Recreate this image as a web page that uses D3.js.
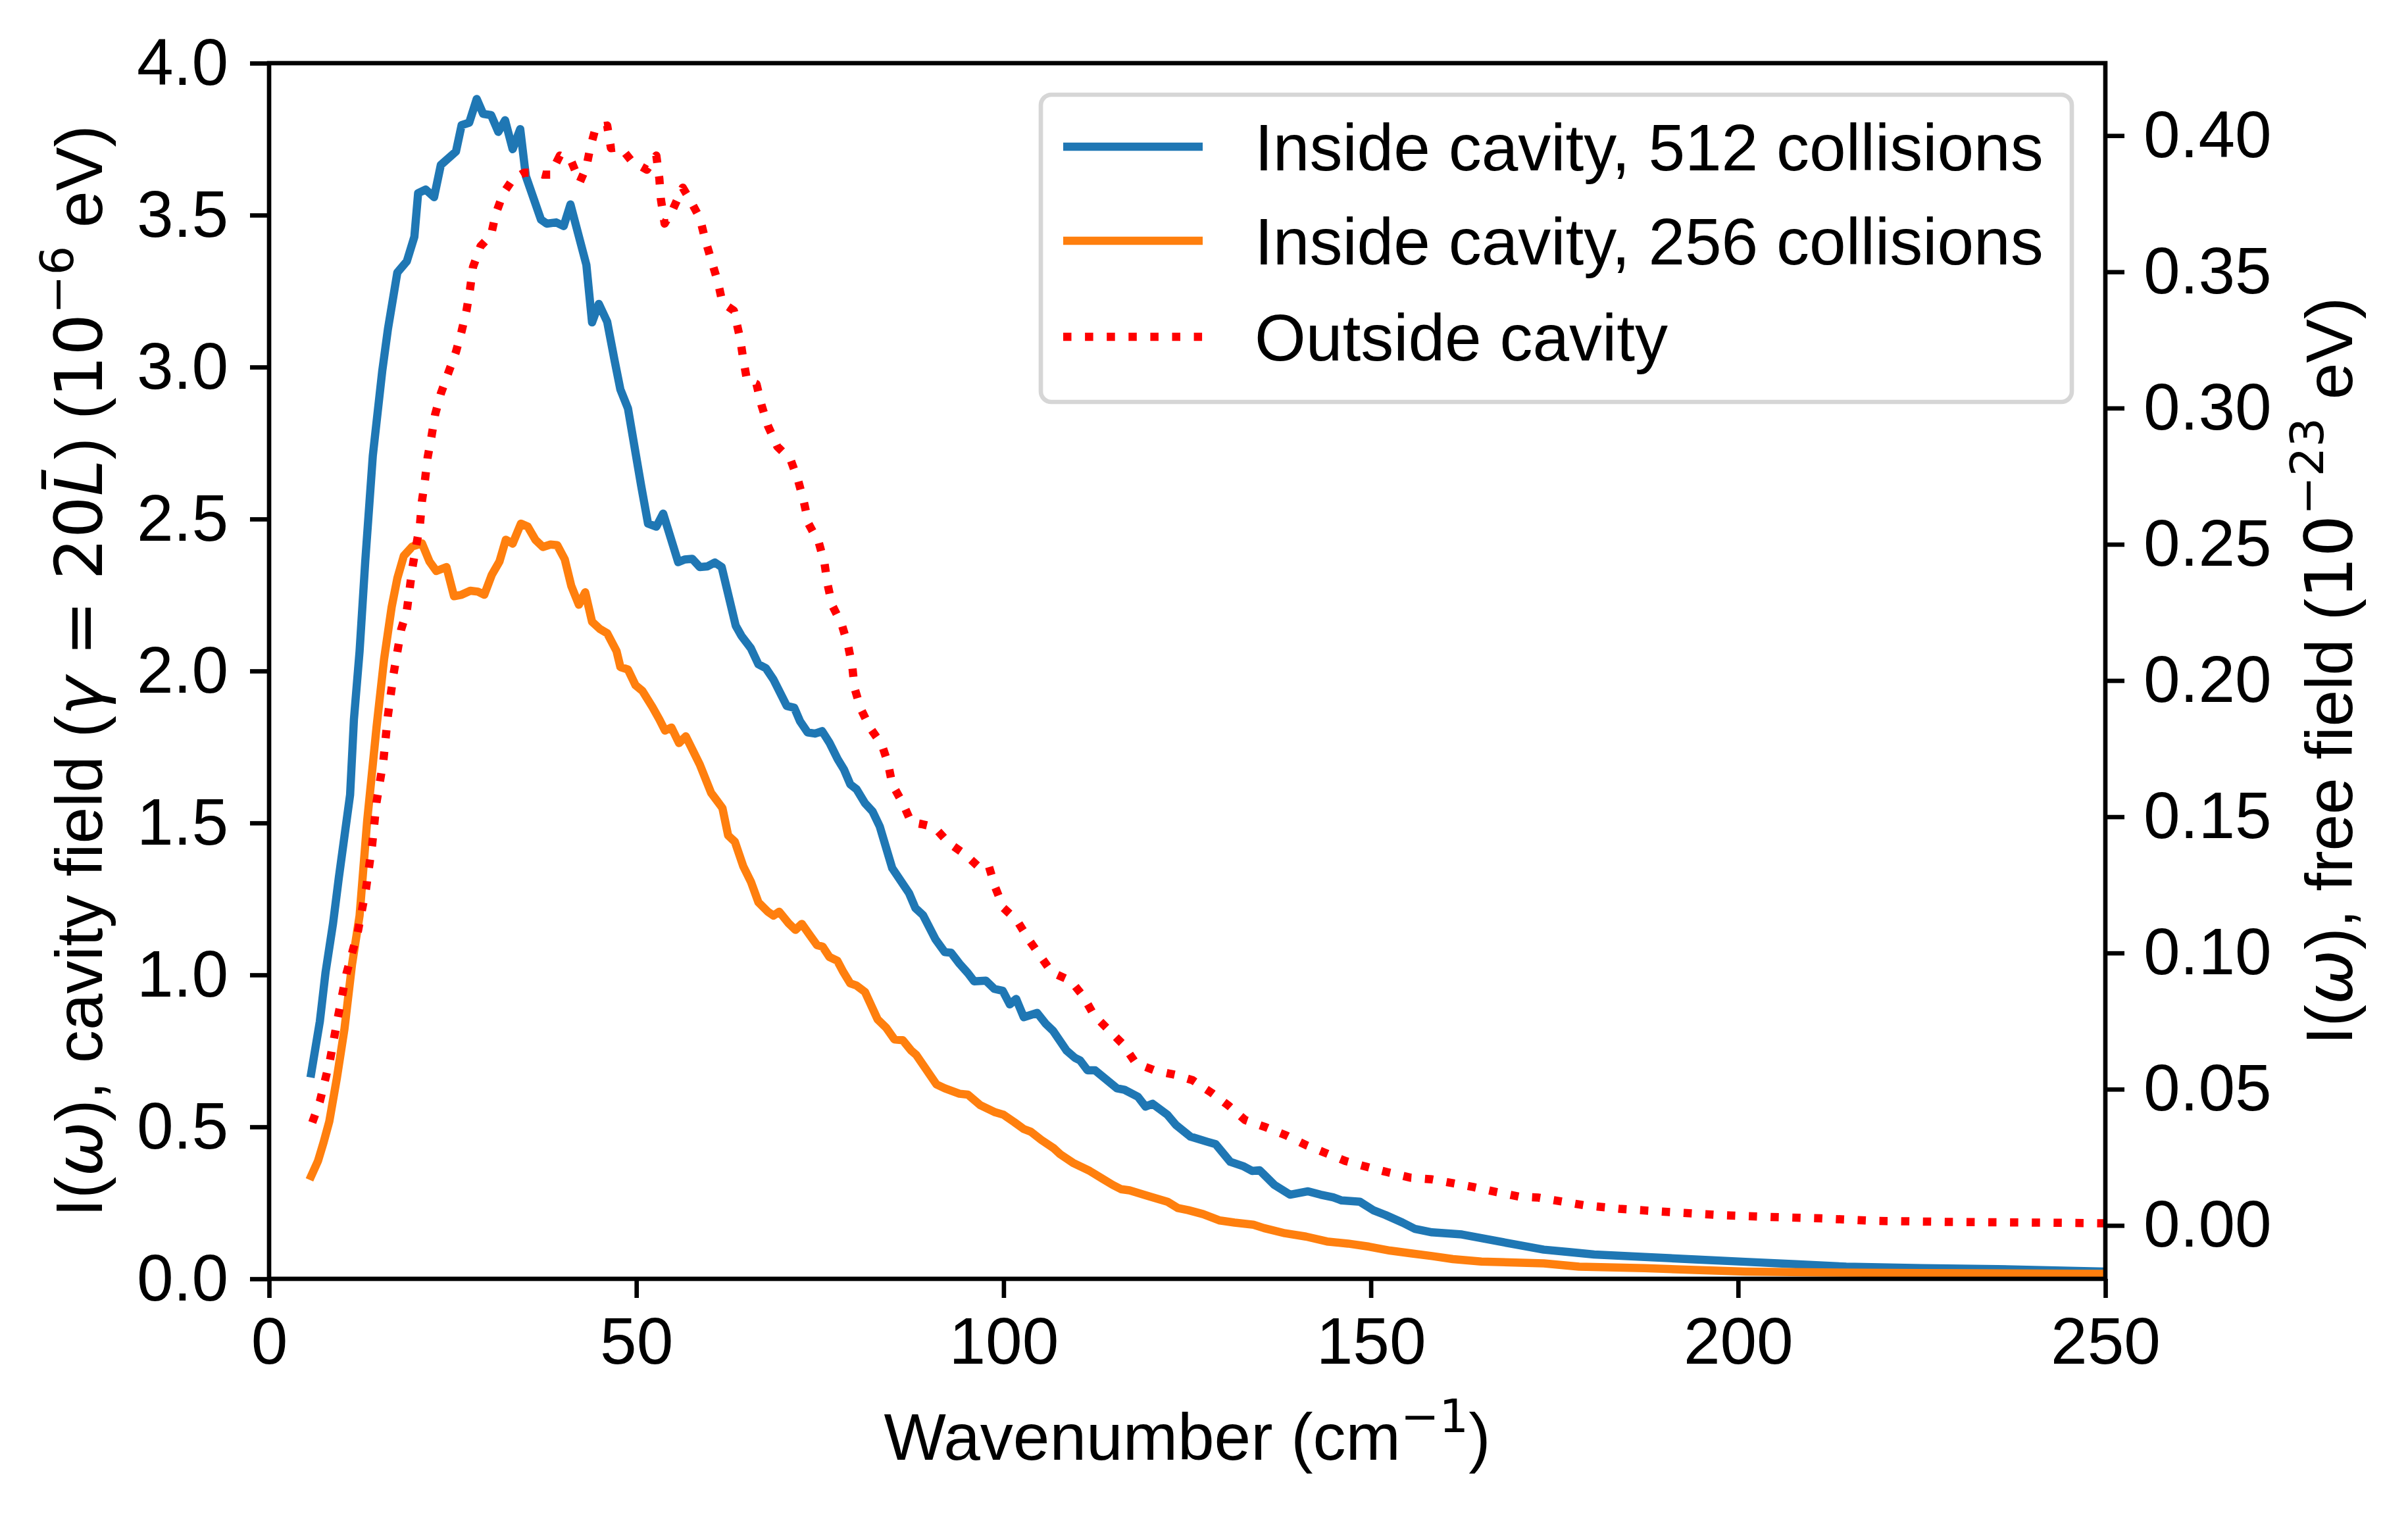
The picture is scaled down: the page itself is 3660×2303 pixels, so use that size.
<!DOCTYPE html>
<html>
<head>
<meta charset="utf-8">
<script src="https://cdn.jsdelivr.net/npm/d3@7"></script>
<style>
  html, body { margin: 0; padding: 0; background: #fff; }
  svg { display: block; }
</style>
</head>
<body>
<div id="chart"></div>
<script>
const width = 3660;
const height = 2303;

// wavenumber / intensity
const blueX = [5.73, 6.91, 7.69, 8.71, 9.49, 10.26, 11.03, 11.55, 12.32, 13.09, 14.12, 15.41, 16.18, 17.46, 18.75, 19.78, 20.29, 21.32, 22.46, 23.38, 25.44, 26.21, 27.24, 28.27, 29.15, 30.23, 31.21, 32.13, 33.16, 34.19, 34.96, 37.02, 37.79, 39.08, 40.11, 41.03, 43.2, 43.97, 44.89, 46.03, 47.06, 47.83, 48.86, 50.66, 51.59, 52.72, 53.65, 55.7, 56.58, 57.61, 58.64, 59.67, 60.7, 61.62, 63.53, 64.3, 65.59, 66.62, 67.64, 68.67, 70.48, 71.5, 72.28, 73.31, 74.34, 75.3, 76.27, 77.41, 78.27, 79.13, 79.98, 81.13, 82.16, 83.13, 84.84, 87.13, 87.99, 89.02, 90.73, 91.99, 92.85, 93.99, 95.14, 95.99, 97.59, 98.74, 99.88, 100.85, 101.71, 102.74, 104.57, 105.71, 106.74, 108.57, 109.72, 110.4, 111.43, 112.46, 115.43, 116.46, 118.29, 119.32, 120.29, 122.29, 123.44, 125.44, 127.73, 128.87, 130.87, 132.59, 133.84, 134.87, 136.87, 138.99, 141.45, 143.16, 144.88, 146.02, 148.48, 150.31, 152.0, 154.31, 156.03, 158.32, 162.4, 165.06, 170.11, 173.55, 176.98, 180.41, 187.27, 194.13, 200.99, 207.86, 214.72, 225.02, 235.31, 250];
const blueY = [0.676, 0.847, 1.009, 1.17, 1.319, 1.456, 1.593, 1.841, 2.065, 2.36, 2.708, 2.988, 3.125, 3.311, 3.348, 3.429, 3.572, 3.584, 3.559, 3.665, 3.709, 3.796, 3.804, 3.882, 3.833, 3.829, 3.774, 3.812, 3.717, 3.783, 3.628, 3.485, 3.472, 3.476, 3.464, 3.535, 3.336, 3.147, 3.208, 3.149, 3.019, 2.926, 2.864, 2.609, 2.485, 2.475, 2.518, 2.358, 2.367, 2.369, 2.342, 2.344, 2.357, 2.342, 2.149, 2.116, 2.075, 2.022, 2.009, 1.972, 1.885, 1.879, 1.835, 1.798, 1.794, 1.802, 1.765, 1.71, 1.676, 1.627, 1.611, 1.565, 1.538, 1.489, 1.351, 1.269, 1.22, 1.197, 1.117, 1.075, 1.073, 1.037, 1.006, 0.979, 0.981, 0.954, 0.948, 0.903, 0.921, 0.861, 0.875, 0.84, 0.816, 0.751, 0.727, 0.719, 0.686, 0.686, 0.627, 0.622, 0.599, 0.567, 0.576, 0.54, 0.507, 0.468, 0.451, 0.443, 0.385, 0.371, 0.355, 0.357, 0.309, 0.277, 0.288, 0.277, 0.268, 0.258, 0.254, 0.226, 0.21, 0.185, 0.164, 0.153, 0.146, 0.134, 0.111, 0.096, 0.088, 0.08, 0.072, 0.064, 0.056, 0.048, 0.04, 0.035, 0.032, 0.024];

const orangeX = [5.73, 6.66, 7.43, 8.2, 9.23, 10.26, 11.29, 12.32, 13.35, 14.63, 15.66, 16.69, 17.46, 18.34, 19.52, 20.81, 21.84, 22.77, 24.15, 25.18, 26.21, 27.4, 28.43, 29.3, 30.33, 31.36, 32.23, 33.16, 34.29, 35.22, 36.25, 37.28, 38.31, 39.23, 40.26, 41.14, 42.17, 43.04, 43.97, 45.0, 46.03, 47.31, 47.83, 48.86, 49.89, 50.81, 52.2, 53.13, 53.9, 54.78, 55.81, 56.73, 58.64, 60.18, 60.95, 61.72, 62.5, 63.42, 64.56, 65.59, 66.62, 67.9, 68.67, 69.45, 70.73, 71.66, 72.53, 73.56, 74.59, 75.36, 76.29, 77.35, 78.19, 79.13, 79.98, 81.13, 82.84, 83.99, 85.13, 86.27, 87.42, 88.1, 90.85, 91.99, 93.99, 95.14, 96.85, 98.85, 99.99, 101.43, 102.74, 103.71, 105.14, 106.86, 107.71, 109.43, 111.72, 113.43, 114.86, 116.0, 117.15, 119.72, 122.29, 123.72, 125.15, 127.16, 129.44, 131.44, 134.02, 135.45, 138.3, 141.16, 144.02, 146.88, 149.74, 152.6, 155.45, 158.32, 161.17, 165.06, 173.55, 178.35, 187.27, 194.13, 200.99, 211.29, 225.02, 250];
const orangeY = [0.338, 0.388, 0.45, 0.518, 0.661, 0.822, 1.034, 1.195, 1.506, 1.816, 2.04, 2.211, 2.305, 2.379, 2.41, 2.42, 2.36, 2.329, 2.342, 2.246, 2.251, 2.264, 2.261, 2.251, 2.317, 2.36, 2.432, 2.419, 2.485, 2.475, 2.432, 2.408, 2.416, 2.414, 2.367, 2.28, 2.218, 2.259, 2.162, 2.139, 2.124, 2.065, 2.013, 2.005, 1.953, 1.935, 1.881, 1.841, 1.804, 1.814, 1.763, 1.785, 1.692, 1.599, 1.574, 1.549, 1.459, 1.438, 1.357, 1.307, 1.239, 1.208, 1.195, 1.208, 1.17, 1.148, 1.168, 1.133, 1.098, 1.093, 1.059, 1.047, 1.009, 0.972, 0.965, 0.944, 0.854, 0.827, 0.788, 0.785, 0.751, 0.737, 0.64, 0.627, 0.609, 0.606, 0.571, 0.548, 0.54, 0.516, 0.493, 0.484, 0.457, 0.429, 0.41, 0.382, 0.355, 0.33, 0.309, 0.295, 0.291, 0.272, 0.254, 0.233, 0.226, 0.213, 0.192, 0.185, 0.178, 0.167, 0.15, 0.139, 0.123, 0.116, 0.106, 0.093, 0.084, 0.075, 0.065, 0.057, 0.051, 0.04, 0.035, 0.029, 0.024, 0.021, 0.019, 0.016];

const redX = [5.88, 6.91, 8.3, 9.38, 10.52, 12.06, 13.19, 14.02, 14.63, 15.56, 16.18, 16.95, 17.98, 18.75, 19.52, 20.55, 20.81, 21.22, 21.58, 22.1, 22.61, 23.38, 24.41, 25.44, 26.21, 26.88, 27.35, 27.76, 28.79, 30.23, 30.85, 31.88, 33.16, 34.71, 36.25, 37.28, 38.31, 39.59, 41.14, 42.32, 43.2, 43.71, 44.48, 46.03, 46.54, 47.83, 49.37, 51.43, 52.72, 53.13, 53.34, 53.85, 55.03, 56.32, 57.25, 58.64, 59.41, 60.18, 61.11, 61.73, 63.27, 64.14, 64.56, 65.07, 66.36, 67.03, 67.9, 69.19, 70.99, 72.02, 72.79, 73.46, 74.85, 75.62, 76.04, 76.65, 77.94, 78.84, 79.41, 79.7, 80.56, 81.81, 83.41, 84.27, 84.84, 86.27, 87.42, 88.85, 90.56, 92.56, 94.85, 96.68, 97.99, 98.85, 99.99, 101.83, 103.43, 105.03, 106.57, 109.14, 110.86, 112.29, 114.29, 116.29, 118.01, 120.58, 123.32, 125.72, 128.3, 130.58, 132.87, 135.73, 138.59, 141.16, 143.73, 146.59, 149.45, 152.31, 155.45, 158.32, 161.19, 163.94, 167.03, 170.11, 172.86, 175.95, 179.04, 183.84, 190.7, 197.57, 204.43, 211.29, 218.16, 228.45, 238.75, 250];
const redY = [0.0378, 0.0455, 0.0608, 0.0766, 0.0923, 0.1075, 0.1235, 0.1394, 0.1554, 0.1706, 0.1872, 0.2025, 0.2187, 0.2256, 0.2416, 0.2575, 0.2658, 0.2735, 0.2818, 0.2894, 0.2977, 0.3053, 0.313, 0.3206, 0.3282, 0.3358, 0.3435, 0.3518, 0.3594, 0.3636, 0.3712, 0.3788, 0.3839, 0.3864, 0.3864, 0.3857, 0.3857, 0.3927, 0.3906, 0.383, 0.3885, 0.3954, 0.4031, 0.4037, 0.3954, 0.3958, 0.3906, 0.3875, 0.3927, 0.3843, 0.3767, 0.3677, 0.3733, 0.3809, 0.3767, 0.3698, 0.3615, 0.3545, 0.3462, 0.3386, 0.3358, 0.3254, 0.3178, 0.3102, 0.3088, 0.3012, 0.2936, 0.2859, 0.2811, 0.2735, 0.2658, 0.2575, 0.2506, 0.243, 0.2353, 0.2277, 0.2208, 0.2127, 0.205, 0.1973, 0.1896, 0.1827, 0.1765, 0.1696, 0.1619, 0.155, 0.148, 0.1473, 0.1462, 0.1403, 0.136, 0.1314, 0.1319, 0.1242, 0.1165, 0.1119, 0.1049, 0.0988, 0.0929, 0.0898, 0.0841, 0.0772, 0.0718, 0.0664, 0.0595, 0.0569, 0.0553, 0.0533, 0.0487, 0.0441, 0.0387, 0.036, 0.0329, 0.0295, 0.0267, 0.0236, 0.0215, 0.0195, 0.0175, 0.0169, 0.0155, 0.0141, 0.0123, 0.0106, 0.0102, 0.0088, 0.0074, 0.0061, 0.0049, 0.0038, 0.0031, 0.0026, 0.0017, 0.0013, 0.0011, 0.0008];

const xTicks = [0, 50, 100, 150, 200, 250];
const leftTicks = [0, 0.5, 1, 1.5, 2, 2.5, 3, 3.5, 4];
const rightTicks = [0, 0.05, 0.1, 0.15, 0.2, 0.25, 0.3, 0.35, 0.4];

const legendLabels = ["Inside cavity, 512 collisions", "Inside cavity, 256 collisions", "Outside cavity"];
const colors = ["#1f77b4", "#ff7f0e", "#ff0000"];

const font = "'Liberation Sans', Arial, Helvetica, sans-serif";
const mathFont = "'DejaVu Sans', sans-serif";
const fs = 100;
const lw = 12.5;
const axLw = 6.67;

const plot = { left: 409, right: 3200, top: 96, bottom: 1944 };

const x = d3.scaleLinear().domain([0, 250]).range([plot.left, plot.right]);
const yL = d3.scaleLinear().domain([0, 4]).range([plot.bottom, plot.top]);
const yR = d3.scaleLinear().domain([-0.0196, 0.4266]).range([plot.bottom, plot.top]);

const svg = d3.select("#chart")
  .append("svg")
  .attr("width", width)
  .attr("height", height);

svg.append("rect").attr("width", width).attr("height", height).attr("fill", "#fff");

svg.append("defs").append("clipPath").attr("id", "clip")
  .append("rect")
  .attr("x", plot.left).attr("y", plot.top)
  .attr("width", plot.right - plot.left).attr("height", plot.bottom - plot.top);

// lines
const lineL = d3.line().x(d => x(d[0])).y(d => yL(d[1]));
const lineR = d3.line().x(d => x(d[0])).y(d => yR(d[1]));

const lines = svg.append("g").attr("clip-path", "url(#clip)");

lines.append("path")
  .datum(d3.zip(blueX, blueY))
  .attr("fill", "none")
  .attr("stroke", colors[0])
  .attr("stroke-width", lw)
  .attr("stroke-linejoin", "round")
  .attr("stroke-linecap", "square")
  .attr("d", lineL);

lines.append("path")
  .datum(d3.zip(orangeX, orangeY))
  .attr("fill", "none")
  .attr("stroke", colors[1])
  .attr("stroke-width", lw)
  .attr("stroke-linejoin", "round")
  .attr("stroke-linecap", "square")
  .attr("d", lineL);

lines.append("path")
  .datum(d3.zip(redX, redY))
  .attr("fill", "none")
  .attr("stroke", colors[2])
  .attr("stroke-width", lw)
  .attr("stroke-dasharray", "12.5,20.6")
  .attr("stroke-linejoin", "round")
  .attr("d", lineR);

// axes
function styleAxis(g) {
  g.select(".domain").remove();
  g.selectAll(".tick line").attr("stroke", "#000").attr("stroke-width", axLw);
  g.selectAll(".tick text").attr("fill", "#000");
  g.attr("font-size", fs).attr("font-family", font);
}

svg.append("g")
  .attr("transform", `translate(0,${plot.bottom})`)
  .call(d3.axisBottom(x).tickValues(xTicks).tickFormat(d3.format("d")).tickSize(29).tickPadding(29))
  .call(styleAxis);

svg.append("g")
  .attr("transform", `translate(${plot.left},0)`)
  .call(d3.axisLeft(yL).tickValues(leftTicks).tickFormat(d3.format(".1f")).tickSize(29).tickPadding(33))
  .call(styleAxis);

svg.append("g")
  .attr("transform", `translate(${plot.right},0)`)
  .call(d3.axisRight(yR).tickValues(rightTicks).tickFormat(d3.format(".2f")).tickSize(29).tickPadding(29))
  .call(styleAxis);

// spines
svg.append("rect")
  .attr("x", plot.left).attr("y", plot.top)
  .attr("width", plot.right - plot.left).attr("height", plot.bottom - plot.top)
  .attr("fill", "none")
  .attr("stroke", "#000")
  .attr("stroke-width", axLw)
  .attr("stroke-linecap", "square");

// axis labels
const xl = svg.append("text")
  .attr("x", (plot.left + plot.right) / 2)
  .attr("y", 2219)
  .attr("text-anchor", "middle")
  .attr("font-family", font)
  .attr("font-size", fs);
xl.append("tspan").text("Wavenumber (cm");
xl.append("tspan").attr("font-family", mathFont).attr("font-size", 70).attr("dy", -42).text("\u22121");
xl.append("tspan").attr("dy", 42).text(")");

const ylL = svg.append("text")
  .attr("transform", `translate(155,${(plot.top + plot.bottom) / 2}) rotate(-90)`)
  .attr("text-anchor", "middle")
  .attr("font-family", font)
  .attr("font-size", fs);
ylL.append("tspan").text("I(");
ylL.append("tspan").attr("font-family", mathFont).attr("font-style", "italic").text("\u03c9");
ylL.append("tspan").text("), cavity field (");
ylL.append("tspan").attr("font-family", mathFont).attr("font-style", "italic").text("\u03b3");
ylL.append("tspan").attr("font-family", mathFont).text(" = 20");
ylL.append("tspan").attr("font-family", mathFont).attr("font-style", "italic").text("L\u0304");
ylL.append("tspan").text(") (");
ylL.append("tspan").attr("font-family", mathFont).text("10");
ylL.append("tspan").attr("font-family", mathFont).attr("font-size", 70).attr("dy", -44).text("\u22126");
ylL.append("tspan").attr("dy", 44).text(" eV)");

const ylR = svg.append("text")
  .attr("transform", `translate(3575,${(plot.top + plot.bottom) / 2}) rotate(-90)`)
  .attr("text-anchor", "middle")
  .attr("font-family", font)
  .attr("font-size", fs);
ylR.append("tspan").text("I(");
ylR.append("tspan").attr("font-family", mathFont).attr("font-style", "italic").text("\u03c9");
ylR.append("tspan").text("), free field (");
ylR.append("tspan").attr("font-family", mathFont).text("10");
ylR.append("tspan").attr("font-family", mathFont).attr("font-size", 70).attr("dy", -44).text("\u221223");
ylR.append("tspan").attr("dy", 44).text(" eV)");

// legend
const legend = svg.append("g");
legend.append("rect")
  .attr("x", 1582).attr("y", 144)
  .attr("width", 3149 - 1582).attr("height", 611 - 144)
  .attr("rx", 16).attr("ry", 16)
  .attr("fill", "#fff").attr("fill-opacity", 0.8)
  .attr("stroke", "#cccccc").attr("stroke-opacity", 0.8)
  .attr("stroke-width", axLw);

const rowY = [223, 366, 512];
legendLabels.forEach((label, i) => {
  const ln = legend.append("line")
    .attr("x1", 1616).attr("x2", 1828)
    .attr("y1", rowY[i]).attr("y2", rowY[i])
    .attr("stroke", colors[i])
    .attr("stroke-width", lw);
  if (i === 2) ln.attr("stroke-dasharray", "12.5,20.6");
  legend.append("text")
    .attr("x", 1907)
    .attr("y", rowY[i] + 36)
    .attr("font-family", font)
    .attr("font-size", fs)
    .attr("fill", "#000")
    .text(label);
});
</script>
</body>
</html>
